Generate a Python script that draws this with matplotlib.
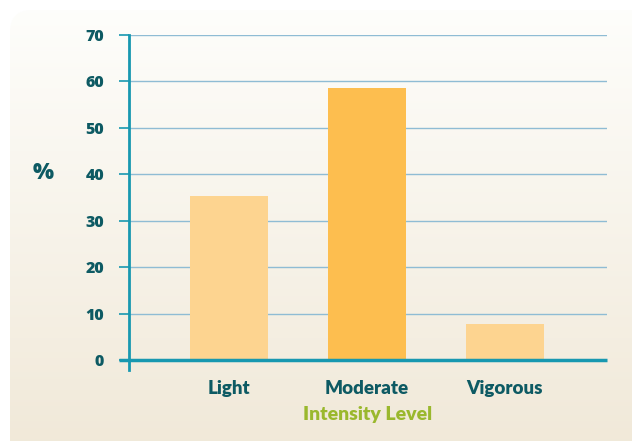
import numpy as np
import matplotlib.pyplot as plt
from matplotlib.patches import FancyBboxPatch

categories = ['Light', 'Moderate', 'Vigorous']
values = [35.3, 58.6, 7.8]
bar_colors = ['#fdd490', '#fdbe4f', '#fdd490']
yticks = [0, 10, 20, 30, 40, 50, 60, 70]

teal = '#1898b0'
dark = '#0d5a63'
green = '#9ab82d'
grid_blue = '#8fbcd4'

fig = plt.figure(figsize=(6.32, 4.41), dpi=100)
fig.patch.set_facecolor('white')

# rounded panel with vertical gradient
bg = fig.add_axes([0, 0, 1, 1], zorder=-10)
bg.set_xlim(0, 632)
bg.set_ylim(441, 0)
bg.axis('off')
grad = np.linspace(0, 1, 256).reshape(-1, 1)
top = np.array([0.995, 0.995, 0.985])
bot = np.array([0.945, 0.914, 0.851])
img = top + (bot - top) * grad[:, :, None]
im = bg.imshow(img, extent=[10, 640, 441, 10], aspect='auto')
panel = FancyBboxPatch((10, 10), 660, 460, boxstyle='round,pad=0,rounding_size=22',
                       transform=bg.transData, facecolor='none', edgecolor='none')
bg.add_patch(panel)
im.set_clip_path(panel)

ax = fig.add_axes([129 / 632, 1 - 370 / 441, (607 - 129) / 632, (370 - 35) / 441])
ax.set_facecolor('none')
x = np.arange(len(categories))
ax.bar(x, values, width=0.57, color=bar_colors, zorder=3)
ax.set_xlim(-0.725, 2.74)
ax.set_ylim(-2.15, 70)

for v in yticks[1:]:
    ax.axhline(v, color=grid_blue, lw=1, zorder=1)

for s in ['top', 'right', 'bottom']:
    ax.spines[s].set_visible(False)
ax.spines['left'].set_color(teal)
ax.spines['left'].set_linewidth(2)
ax.plot([-0.02, 1], [0, 0], color=teal, lw=2.5, transform=ax.get_yaxis_transform(),
        clip_on=False, zorder=4, solid_capstyle='butt')

ax.set_yticks(yticks)
ax.set_yticklabels([str(v) for v in yticks])
ax.tick_params(axis='y', length=7, width=1.2, color=teal, pad=11, labelcolor=dark)
for lab in ax.get_yticklabels():
    lab.set_fontfamily('Open Sans')
    lab.set_fontweight('heavy')
    lab.set_fontsize(11.5)

ax.set_xticks(x)
ax.set_xticklabels(categories)
ax.tick_params(axis='x', length=0, pad=7, labelcolor=dark)
for lab in ax.get_xticklabels():
    lab.set_fontfamily('Lato')
    lab.set_fontweight('heavy')
    lab.set_fontsize(13.5)

ax.set_xlabel('Intensity Level', color=green, fontsize=14, fontweight='heavy',
              family='Lato', labelpad=7)
fig.text(43 / 632, 1 - 173 / 441, '%', color=dark, fontsize=16, fontweight='heavy',
         family='Open Sans', ha='center', va='center')

fig.savefig('out.png', dpi=100)
